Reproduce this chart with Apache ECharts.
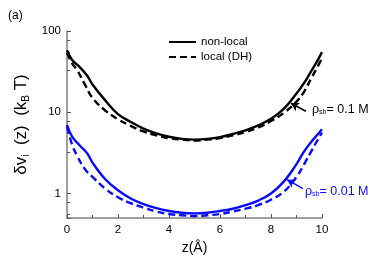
<!DOCTYPE html>
<html><head><meta charset="utf-8">
<script src="https://cdn.jsdelivr.net/npm/echarts@6/dist/echarts.min.js"></script>
<style>html,body{margin:0;padding:0;background:#fff}#c{width:374px;height:264px}</style>
</head><body><div id="c"></div>
<script>
var zNonLocal01 = [0,0.2,0.5,0.8,1.0,1.5,2.0,2.5,3.0,3.5,4.0,4.5,5.0,5.5,6.0,6.5,7.0,7.5,8.0,8.5,9.0,9.3,9.6,9.8,10];
var vNonLocal01 = [58,44,36,28,22,14,9.5,7.6,6.3,5.5,5.0,4.7,4.6,4.7,4.95,5.4,6.0,6.9,8.3,11,17,23,33,42,55];
var zLocal01 = [0,0.2,0.4,0.7,1.0,1.5,2.0,2.5,3.0,3.5,4.0,4.5,5.0,5.5,6.0,6.5,7.0,7.5,8.0,8.5,9.0,9.3,9.6,9.8,10];
var vLocal01 = [54,40,33,22,15,10.5,8.2,6.8,5.8,5.2,4.8,4.6,4.5,4.6,4.8,5.2,5.7,6.5,7.8,9.8,13.5,18,27,35,46];
var zNonLocal001 = [0,0.2,0.5,0.8,1.0,1.5,2.0,2.5,3.0,3.5,4.0,4.5,5.0,5.5,6.0,6.5,7.0,7.5,8.0,8.5,9.0,9.3,9.6,9.8,10];
var vNonLocal001 = [7.0,5.0,3.9,3.1,2.4,1.5,1.1,0.87,0.74,0.66,0.61,0.58,0.57,0.58,0.61,0.65,0.72,0.82,1.0,1.4,2.3,3.3,4.4,5.2,6.2];
var zLocal001 = [0,0.2,0.4,0.7,1.0,1.5,2.0,2.5,3.0,3.5,4.0,4.5,5.0,5.5,6.0,6.5,7.0,7.5,8.0,8.5,9.0,9.3,9.6,9.8,10];
var vLocal001 = [6.6,4.0,2.9,2.0,1.6,1.15,0.9,0.76,0.67,0.6,0.56,0.54,0.53,0.54,0.56,0.6,0.65,0.72,0.84,1.05,1.6,2.3,3.4,4.4,5.6];
var yTickLabels = [1,10,100];
var legendNames = ['non-local','local (DH)'];
var arrow01 = [[9.37,10.3],[8.78,12.9]];
var arrow001 = [[9.25,1.15],[8.63,1.48]];

function pairs(z,v){return z.map(function(x,i){return [x,v[i]];});}
var FONT = 'Liberation Sans, Arial, sans-serif';
var BLUE = '#0a0aff';

function arrowMark(pts,color){
  return {silent:true,symbol:['none','arrow'],symbolSize:[7,8],
    lineStyle:{color:color,width:1.5,type:'solid'},label:{show:false},
    data:[[{coord:pts[0]},{coord:pts[1]}]]};
}

var chart = echarts.init(document.getElementById('c'));
chart.setOption({
  animation:false,
  textStyle:{fontFamily:FONT},
  grid:{left:67,right:52,top:31,bottom:46},
  legend:{data:legendNames,orient:'vertical',left:163,top:31,itemWidth:27,itemHeight:10,itemGap:3,
    itemStyle:{opacity:0},
    textStyle:{fontSize:11.5,color:'#000',fontFamily:FONT}},
  xAxis:{type:'value',min:0,max:10,interval:2,
    name:'z(Å)',nameLocation:'middle',nameGap:22,nameTextStyle:{fontSize:14,color:'#000',fontFamily:FONT},
    axisLine:{lineStyle:{color:'#808080',width:1.5}},
    axisTick:{inside:true,length:4,lineStyle:{color:'#555'}},
    minorTick:{show:true,splitNumber:2,length:3,lineStyle:{color:'#555'}},
    axisLabel:{fontSize:11.5,color:'#000',margin:6,fontFamily:FONT},
    splitLine:{show:false}},
  yAxis:{type:'log',logBase:10,min:0.5,max:100,
    name:'{a|δv}{s|i}{a|  (z)  (k}{s|B}{a| T)}',nameLocation:'middle',nameGap:33,nameRotate:90,
    nameTextStyle:{rich:{a:{fontSize:17,color:'#000',fontFamily:FONT},s:{fontSize:10,color:'#000',fontFamily:FONT,verticalAlign:'bottom',padding:[10,0,0,0]}}},
    axisLine:{lineStyle:{color:'#808080',width:1.5}},
    axisTick:{inside:true,length:4,lineStyle:{color:'#555'}},
    minorTick:{show:true,splitNumber:4,length:3,lineStyle:{color:'#555'}},
    axisLabel:{fontSize:11.5,color:'#000',margin:6,fontFamily:FONT,
      formatter:function(v){var r=Math.round(v);return (yTickLabels.indexOf(r)>=0 && Math.abs(v-r)<1e-6)?String(r):'';}},
    splitLine:{show:false}},
  series:[
    {name:legendNames[0],type:'line',data:pairs(zNonLocal01,vNonLocal01),smooth:0.4,symbol:'none',
      lineStyle:{color:'#000',width:2.4},itemStyle:{color:'#000'},
      markLine:arrowMark(arrow01,'#000')},
    {name:legendNames[1],type:'line',data:pairs(zLocal01,vLocal01),smooth:0.4,symbol:'none',
      lineStyle:{color:'#000',width:2.4,type:[7,4]},itemStyle:{color:'#000'}},
    {name:'nl001',type:'line',data:pairs(zNonLocal001,vNonLocal001),smooth:0.4,symbol:'none',
      lineStyle:{color:BLUE,width:2.4},itemStyle:{color:BLUE},
      markLine:arrowMark(arrow001,BLUE)},
    {name:'l001',type:'line',data:pairs(zLocal001,vLocal001),smooth:0.4,symbol:'none',
      lineStyle:{color:BLUE,width:2.4,type:[7,4]},itemStyle:{color:BLUE}}
  ],
  graphic:[
    {type:'text',left:8,top:10,style:{text:'(a)',fontSize:12,fill:'#000',fontFamily:FONT}},
    {type:'text',left:312,top:103,style:{text:'{g|ρ}{s|sb}{t|= 0.1 M}',
      rich:{g:{fontSize:12.5,fill:'#000',fontFamily:FONT},s:{fontSize:7,fill:'#000',fontFamily:FONT,padding:[6,0,0,0]},t:{fontSize:12.5,fill:'#000',fontFamily:FONT}}}},
    {type:'text',left:305,top:185,style:{text:'{g|ρ}{s|sb}{t|= 0.01 M}',
      rich:{g:{fontSize:12.5,fill:BLUE,fontFamily:FONT},s:{fontSize:7,fill:BLUE,fontFamily:FONT,padding:[6,0,0,0]},t:{fontSize:12.5,fill:BLUE,fontFamily:FONT}}}}
  ]
});
</script></body></html>
